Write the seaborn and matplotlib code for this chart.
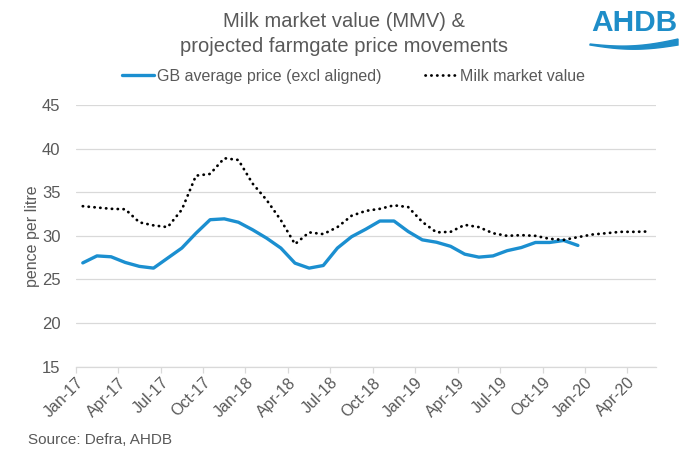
import numpy as np
import pandas as pd
import matplotlib
matplotlib.use("Agg")
import matplotlib.pyplot as plt
import seaborn as sns
from matplotlib.lines import Line2D

# ---- data ----
tick_labels = ["Jan-17", "Apr-17", "Jul-17", "Oct-17", "Jan-18", "Apr-18", "Jul-18",
               "Oct-18", "Jan-19", "Apr-19", "Jul-19", "Oct-19", "Jan-20", "Apr-20"]
gb_price = [26.9, 27.7, 27.6, 26.95, 26.5, 26.3, 27.45, 28.6, 30.3, 31.85, 31.95, 31.56,
            30.7, 29.73, 28.6, 26.87, 26.3, 26.6, 28.6, 29.9, 30.76, 31.7, 31.7, 30.5,
            29.54, 29.27, 28.8, 27.9, 27.56, 27.7, 28.3, 28.66, 29.24, 29.24, 29.47, 28.9]
mmv = [33.4, 33.25, 33.1, 33.05, 31.55, 31.2, 31.0, 33.0, 36.9, 37.1, 38.9, 38.7,
       36.0, 34.1, 31.8, 29.05, 30.4, 30.2, 31.0, 32.3, 32.86, 33.1, 33.5, 33.3,
       31.6, 30.4, 30.46, 31.26, 31.0, 30.3, 30.0, 30.08, 30.0, 29.66, 29.54, 29.85,
       30.15, 30.3, 30.46, 30.46, 30.5]
series_names = ["GB average price (excl aligned)", "Milk market value"]

# month slots: each point drawn at the centre of its month
df = pd.concat([
    pd.DataFrame({"month": np.arange(len(gb_price)) + 0.5, "value": gb_price, "series": series_names[0]}),
    pd.DataFrame({"month": np.arange(len(mmv)) + 0.5, "value": mmv, "series": series_names[1]}),
])

sns.set_theme(style="white")
plt.rcParams["font.family"] = ["Liberation Sans", "DejaVu Sans"]

grey = "#595959"
blue = "#1b8fd0"
dots = (0, (0.1, 2.0))

fig = plt.figure(figsize=(6.96, 4.61), dpi=100)
ax = fig.add_axes([0.1088, 0.2046, 0.8333, 0.5676])

sns.lineplot(data=df, x="month", y="value", hue="series", style="series",
             palette={series_names[0]: blue, series_names[1]: "black"},
             dashes={series_names[0]: "", series_names[1]: (0.1, 2.0)},
             linewidth=2.3, ax=ax, legend=False)
lines = ax.get_lines()
lines[0].set_linewidth(2.4)
lines[1].set_dash_capstyle("round")
lines[1].set_linewidth(2.0)

ax.set_xlim(0, len(mmv))
ax.set_ylim(15, 45)
ax.set_yticks(range(15, 46, 5))
ax.set_xticks(np.arange(0, len(tick_labels) * 3, 3))
ax.set_xticklabels(tick_labels, rotation=45, ha="right", rotation_mode="anchor")
ax.grid(axis="y", color="#d9d9d9", linewidth=0.9)
ax.grid(axis="x", visible=False)
for s in ["top", "right", "left"]:
    ax.spines[s].set_visible(False)
ax.spines["bottom"].set_color("#d9d9d9")
ax.spines["bottom"].set_linewidth(0.9)
ax.tick_params(axis="x", bottom=True, length=4, width=0.9, color="#d9d9d9",
               labelsize=11.5, labelcolor=grey, pad=2)
ax.tick_params(axis="y", left=False, labelsize=12, labelcolor=grey, pad=5)
ax.set_xlabel("")
ax.set_ylabel("pence per litre", fontsize=11.5, color=grey)
ax.yaxis.set_label_coords(-0.062, 0.5)

# legend
handles = [Line2D([], [], color=blue, linewidth=2.4),
           Line2D([], [], color="black", linewidth=2.0, linestyle=dots,
                  dash_capstyle="round")]
fig.legend(handles, series_names, loc="center", bbox_to_anchor=(0.508, 0.835), ncol=2,
           frameon=False, fontsize=11.5, labelcolor=grey, handlelength=2.0,
           handletextpad=0.2, columnspacing=2.7)

# title
fig.text(0.494, 0.953, "Milk market value (MMV) &", ha="center", va="center",
         fontsize=14.5, color=grey)
fig.text(0.494, 0.900, "projected farmgate price movements", ha="center", va="center",
         fontsize=14.5, color=grey)

# source
fig.text(0.04, 0.045, "Source: Defra, AHDB", ha="left", va="center", fontsize=11, color=grey)

# logo
logo_blue = "#1e8dc8"
fig.text(0.912, 0.951, "AHDB", ha="center", va="center", fontsize=21.5, fontweight="bold",
         color=logo_blue)
t = np.linspace(0, 1, 100)
wx = 590 + 88 * t
top = 44 + 3 * np.sin(np.pi * t) - 5 * t ** 2
bot = top + 1 + 5 * t
poly = np.column_stack([np.r_[wx, wx[::-1]] / 696, (461 - np.r_[top, bot[::-1]]) / 461])
fig.patches.append(plt.Polygon(poly, closed=True, color=logo_blue, transform=fig.transFigure))

fig.savefig("out.png", dpi=100)
